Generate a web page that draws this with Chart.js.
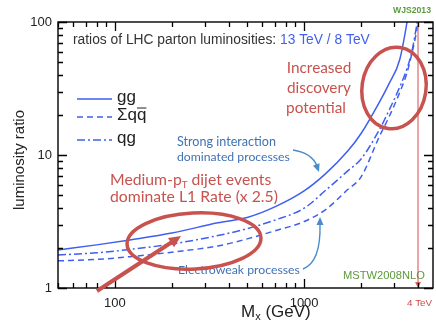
<!DOCTYPE html>
<html>
<head>
<meta charset="utf-8">
<script src="https://cdn.jsdelivr.net/npm/chart.js@4/dist/chart.umd.min.js"></script>
<style>
  html, body { margin: 0; padding: 0; background: #fff; }
  #wrap { width: 436px; height: 326px; }
</style>
</head>
<body>
<div id="wrap"><canvas id="lumi"></canvas></div>
<script>
// ratios of parton luminosities 13 TeV / 8 TeV
var massGeV = [50, 80, 120, 200, 350, 500, 700, 1000, 1300, 1700, 2000, 2500, 2800, 3200, 3500, 3700, 4000, 4100];
var ggRatio = [1.93, 2.11, 2.30, 2.59, 3.09, 3.39, 4.07, 5.37, 7.24, 10.7, 14.5, 25, 34, 52, 100, 170, null, null];
var qqRatio = [1.60, 1.64, 1.72, 1.86, 2.07, 2.34, 2.69, 3.16, 3.89, 5.50, 6.84, 13.8, 19.1, 29.5, 41.7, 57, 97.7, 126];
var qgRatio = [1.77, 1.84, 1.95, 2.14, 2.48, 2.79, 3.24, 3.98, 5.43, 7.59, 9.33, 15.5, 21.4, 32.4, 44.7, 58.9, 107, 130];
var seriesNames = ['gg', 'Σqq', 'qg'];
var xTickLabels = [100, 1000];
var yTickLabels = [1, 10, 100];
var xRange = [50, 4800];
var yRange = [1, 100];
var collider = 4000; // 4 TeV line

var blue = '#3f5ff0';
var red = '#c8524e';

function pts(ys) {
  return massGeV.map(function (m, i) { return { x: m, y: ys[i] }; });
}

function fitSize(ctx, text, family, weight, width) {
  ctx.font = weight + ' 20px ' + family;
  return 20 * width / ctx.measureText(text).width;
}

function fitText(ctx, text, x, y, width, family, weight, color) {
  var s = fitSize(ctx, text, family, weight, width);
  ctx.font = weight + ' ' + s + 'px ' + family;
  ctx.fillStyle = color;
  ctx.fillText(text, x, y);
}

function arrowHead(ctx, x, y, ang, len, w, color) {
  ctx.save();
  ctx.translate(x, y);
  ctx.rotate(ang);
  ctx.fillStyle = color;
  ctx.beginPath();
  ctx.moveTo(0, 0);
  ctx.lineTo(-len, -w / 2);
  ctx.lineTo(-len, w / 2);
  ctx.closePath();
  ctx.fill();
  ctx.restore();
}

// inward log ticks on both sides of the box
function logTicks(ctx, scale, range, horizontal, a) {
  var lo = Math.floor(Math.log10(range[0])), hi = Math.ceil(Math.log10(range[1]));
  ctx.beginPath();
  for (var e = lo; e <= hi; e++) {
    for (var k = 1; k <= 9; k++) {
      var v = k * Math.pow(10, e);
      if (v < range[0] * 0.999 || v > range[1] * 1.001) continue;
      var p = Math.round(scale.getPixelForValue(v)) + 0.5;
      var len = k === 1 ? 9 : 5;
      if (horizontal) {
        ctx.moveTo(p, a.bottom); ctx.lineTo(p, a.bottom - len);
        ctx.moveTo(p, a.top); ctx.lineTo(p, a.top + len);
      } else {
        ctx.moveTo(a.left, p); ctx.lineTo(a.left + len, p);
        ctx.moveTo(a.right, p); ctx.lineTo(a.right - len, p);
      }
    }
  }
  ctx.stroke();
}

var frame = {
  id: 'lumiFrame',
  beforeDraw: function (chart) {
    var ctx = chart.ctx;
    ctx.save();
    ctx.fillStyle = '#fff';
    ctx.fillRect(0, 0, chart.width, chart.height);
    ctx.restore();
  },
  afterDatasetsDraw: function (chart) {
    var ctx = chart.ctx, a = chart.chartArea;
    ctx.save();
    ctx.setLineDash([]);
    var xc = chart.scales.x.getPixelForValue(collider);
    ctx.strokeStyle = 'rgba(215,95,95,0.75)';
    ctx.lineWidth = 1.5;
    ctx.beginPath(); ctx.moveTo(xc, a.top); ctx.lineTo(xc, a.bottom - 4); ctx.stroke();
    arrowHead(ctx, xc, a.bottom, Math.PI / 2, 6, 6, 'rgba(215,80,80,0.9)');
    ctx.restore();
  }
};

var notes = {
  id: 'lumiNotes',
  afterDraw: function (chart) {
    var ctx = chart.ctx, a = chart.chartArea;
    ctx.save();
    ctx.setLineDash([]);

    // box and ticks
    ctx.strokeStyle = '#000';
    ctx.lineWidth = 1.4;
    ctx.strokeRect(a.left, a.top, a.right - a.left, a.bottom - a.top);
    ctx.lineWidth = 1.3;
    logTicks(ctx, chart.scales.x, xRange, true, a);
    logTicks(ctx, chart.scales.y, yRange, false, a);

    ctx.textBaseline = 'middle';
    ctx.textAlign = 'left';
    var fam = '"Liberation Sans", Arial, sans-serif';

    // axis titles
    ctx.fillStyle = '#222';
    ctx.font = '17px ' + fam;
    var tx = 241;
    ctx.fillText('M', tx, 312);
    tx += ctx.measureText('M').width;
    ctx.font = '11px ' + fam;
    ctx.fillText('x', tx, 317);
    tx += ctx.measureText('x').width;
    ctx.font = '17px ' + fam;
    ctx.fillText(' (GeV)', tx, 312);

    ctx.save();
    ctx.translate(20, 160);
    ctx.rotate(-Math.PI / 2);
    ctx.textAlign = 'center';
    ctx.font = '15px ' + fam;
    ctx.fillText('luminosity ratio', 0, 0);
    ctx.restore();

    // headline inside plot
    var part1 = 'ratios of LHC parton luminosities: ', part2 = '13 TeV / 8 TeV';
    var hs = fitSize(ctx, part1 + part2, fam, '', 297);
    ctx.font = hs + 'px ' + fam;
    ctx.fillStyle = '#333';
    ctx.fillText(part1, 73, 40);
    var w1 = ctx.measureText(part1).width;
    ctx.fillStyle = blue;
    ctx.fillText(part2, 73 + w1, 40);

    // legend
    var ly = [99, 117, 140];
    chart.data.datasets.forEach(function (ds, i) {
      ctx.strokeStyle = ds.borderColor;
      ctx.lineWidth = ds.borderWidth;
      ctx.setLineDash(ds.borderDash || []);
      ctx.beginPath(); ctx.moveTo(77, ly[i]); ctx.lineTo(112, ly[i]); ctx.stroke();
      ctx.setLineDash([]);
      ctx.fillStyle = '#222';
      ctx.font = '17px ' + fam;
      ctx.fillText(seriesNames[i], 117, ly[i] - 2);
      if (i === 1) {
        var wq = ctx.measureText('Σq').width, wq2 = ctx.measureText('q').width;
        ctx.lineWidth = 1;
        ctx.strokeStyle = '#222';
        ctx.beginPath(); ctx.moveTo(117 + wq, ly[i] - 9); ctx.lineTo(117 + wq + wq2, ly[i] - 9); ctx.stroke();
      }
    });

    // small credits
    fitText(ctx, 'WJS2013', 393, 11, 38, fam, 'bold', '#5c9a3c');
    fitText(ctx, 'MSTW2008NLO', 343, 276, 82, fam, '', '#5c9a3c');
    fitText(ctx, '4 TeV', 407, 303, 25, fam, '', '#cc4b4b');

    // blue notes
    var hum = 'Lato, "Open Sans", sans-serif';
    var noteBlue = '#3f72b5';
    fitText(ctx, 'Strong interaction', 177, 142, 99, hum, '', noteBlue);
    fitText(ctx, 'dominated processes', 177, 157, 113, hum, '', noteBlue);
    fitText(ctx, 'Electroweak processes', 178, 270, 122, hum, '', noteBlue);

    ctx.strokeStyle = '#4a8cc8';
    ctx.lineWidth = 1.4;
    ctx.beginPath(); ctx.moveTo(293, 150); ctx.quadraticCurveTo(312, 153, 317, 166); ctx.stroke();
    arrowHead(ctx, 319, 172, Math.atan2(19, 7), 8, 7, '#4a8cc8');
    ctx.beginPath(); ctx.moveTo(303, 269); ctx.quadraticCurveTo(321, 262, 320, 224); ctx.stroke();
    arrowHead(ctx, 320, 217, -Math.PI / 2, 8, 7, '#4a8cc8');

    // red notes
    var rs = fitSize(ctx, 'discovery', hum, '', 64);
    ctx.font = rs + 'px ' + hum;
    ctx.fillStyle = red;
    ctx.textAlign = 'center';
    ctx.fillText('Increased', 319, 68);
    ctx.fillText('discovery', 319, 88);
    ctx.fillText('potential', 316, 108);
    ctx.textAlign = 'left';

    var ms = fitSize(ctx, 'dominate L1 Rate (x 2.5)', hum, '', 168);
    ctx.font = ms + 'px ' + hum;
    var mx = 110;
    ctx.fillText('Medium-p', mx, 180);
    mx += ctx.measureText('Medium-p').width;
    ctx.font = (ms * 0.62) + 'px ' + hum;
    ctx.fillText('T', mx, 185);
    mx += ctx.measureText('T').width;
    ctx.font = ms + 'px ' + hum;
    ctx.fillText(' dijet events', mx, 180);
    ctx.fillText('dominate L1 Rate (x 2.5)', 110, 197);

    // red ellipses and arrow
    ctx.strokeStyle = red;
    ctx.lineWidth = 3.5;
    ctx.beginPath(); ctx.ellipse(394, 88, 32, 41, 0.15, 0, Math.PI * 2); ctx.stroke();
    ctx.beginPath(); ctx.ellipse(194, 241, 67, 28, -0.05, 0, Math.PI * 2); ctx.stroke();

    ctx.lineWidth = 4;
    ctx.beginPath(); ctx.moveTo(97, 291); ctx.lineTo(172, 242); ctx.stroke();
    arrowHead(ctx, 181, 236, Math.atan2(-6, 9), 12, 11, red);

    ctx.restore();
  }
};

function tickCb(list) {
  return function (v) { return list.indexOf(v) >= 0 ? String(v) : ''; };
}

new Chart(document.getElementById('lumi'), {
  type: 'line',
  data: {
    datasets: [
      { label: seriesNames[0], data: pts(ggRatio), borderColor: blue, borderWidth: 1.5, borderDash: [] },
      { label: seriesNames[1], data: pts(qqRatio), borderColor: blue, borderWidth: 1.5, borderDash: [6, 4] },
      { label: seriesNames[2], data: pts(qgRatio), borderColor: blue, borderWidth: 1.5, borderDash: [8, 3, 2, 3] }
    ]
  },
  options: {
    responsive: true,
    maintainAspectRatio: false,
    animation: false,
    layout: { padding: { left: 0, top: 22, right: 3, bottom: 0 } },
    elements: { point: { radius: 0 }, line: { cubicInterpolationMode: 'monotone', fill: false } },
    plugins: { legend: { display: false }, tooltip: { enabled: false } },
    scales: {
      x: {
        type: 'logarithmic', min: xRange[0], max: xRange[1],
        grid: { display: false, drawTicks: false }, border: { display: false },
        ticks: { autoSkip: false, maxRotation: 0, padding: 8, color: '#222',
          font: { family: '"Liberation Sans", Arial, sans-serif', size: 13 }, callback: tickCb(xTickLabels) },
        afterFit: function (s) { s.height = 38; s.paddingLeft = 0; s.paddingRight = 0; }
      },
      y: {
        type: 'logarithmic', min: yRange[0], max: yRange[1],
        grid: { display: false, drawTicks: false }, border: { display: false },
        ticks: { autoSkip: false, padding: 6, color: '#222',
          font: { family: '"Liberation Sans", Arial, sans-serif', size: 13 }, callback: tickCb(yTickLabels) },
        afterFit: function (s) { s.width = 58; }
      }
    }
  },
  plugins: [frame, notes]
});
</script>
</body>
</html>
